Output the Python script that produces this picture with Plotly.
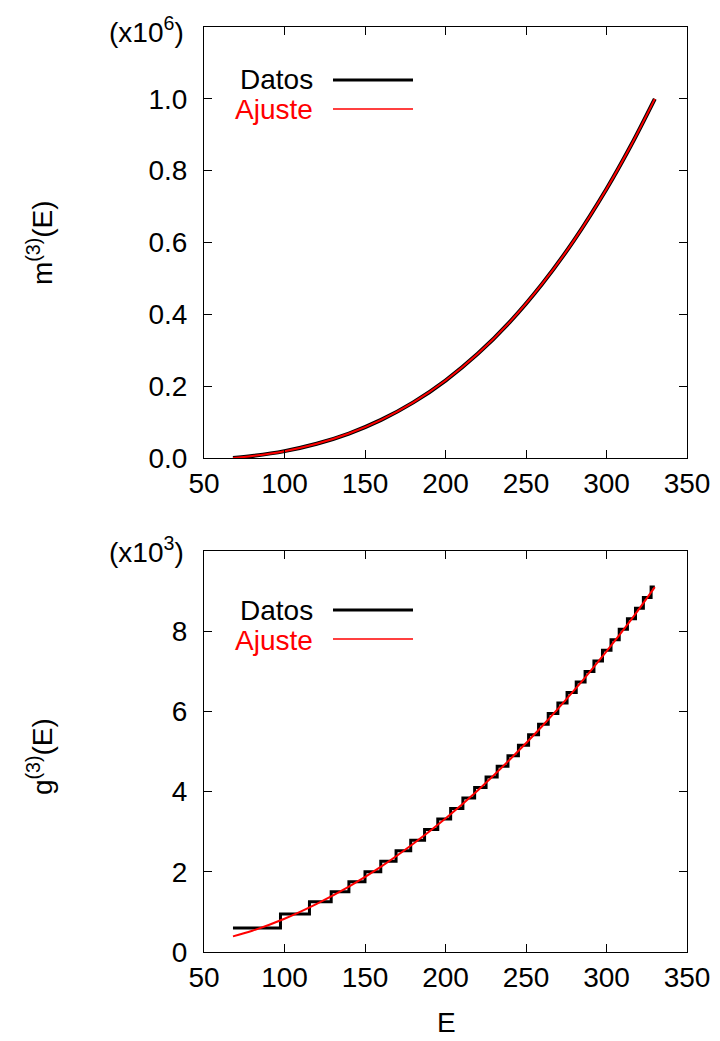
import plotly.graph_objects as go

# ---- data ----
# top panel: m^(3)(E), units of 10^6
E_m = [68, 80, 100, 120, 140, 160, 180, 200, 220, 240, 260, 280, 300, 315, 330]
m_datos = [0.0, 0.0055, 0.0192, 0.0397, 0.0682, 0.1062, 0.1549, 0.2158, 0.2901,
           0.3792, 0.4846, 0.6074, 0.749, 0.8686, 1.0]
m_ajuste = [0.0, 0.0055, 0.0192, 0.0397, 0.0682, 0.1062, 0.1549, 0.2158, 0.2901,
            0.3792, 0.4846, 0.6074, 0.749, 0.8686, 1.0]

# bottom panel: g^(3)(E), units of 10^3 (step data)
g_edges = [68, 97.5, 115.5, 129, 140, 150, 159.8, 169.3, 178.4, 187.0, 195.2, 203.2,
           210.8, 218.1, 225.2, 232.1, 238.8, 245.3, 251.6, 257.8, 263.8, 269.8,
           275.5, 281.2, 286.7, 292.2, 297.5, 302.8, 307.9, 313.0, 318.0, 322.9,
           327.7, 330]
g_levels = [0.60, 0.95, 1.25, 1.50, 1.75, 2.000, 2.263, 2.526, 2.789, 3.052, 3.315,
            3.578, 3.841, 4.104, 4.367, 4.630, 4.893, 5.156, 5.419, 5.682, 5.945,
            6.208, 6.471, 6.734, 6.997, 7.260, 7.523, 7.786, 8.049, 8.312, 8.575,
            8.838, 9.101]
E_fit = [68, 80, 100, 120, 140, 160, 180, 200, 220, 240, 260, 280, 300, 315, 330]
g_fit = [0.39, 0.53, 0.83, 1.20, 1.63, 2.13, 2.70, 3.33, 4.03, 4.80, 5.63, 6.53,
         7.50, 8.27, 9.10]

x_ticks = [50, 100, 150, 200, 250, 300, 350]
m_ticks = [0.0, 0.2, 0.4, 0.6, 0.8, 1.0]
m_ticktext = ["0.0", "0.2", "0.4", "0.6", "0.8", "1.0"]
g_ticks = [0, 2, 4, 6, 8]

FONT = "Liberation Sans, Arial, sans-serif"
FS = 28

fig = go.Figure()
fig.add_trace(go.Scatter(x=E_m, y=m_datos, mode="lines", line=dict(color="black", width=4, shape="spline"),
                         xaxis="x", yaxis="y", showlegend=False))
fig.add_trace(go.Scatter(x=E_m, y=m_ajuste, mode="lines", line=dict(color="red", width=2, shape="spline"),
                         xaxis="x", yaxis="y", showlegend=False))
fig.add_trace(go.Scatter(x=g_edges, y=g_levels + [g_levels[-1]], mode="lines",
                         line=dict(color="black", width=3, shape="hv"),
                         xaxis="x2", yaxis="y2", showlegend=False))
fig.add_trace(go.Scatter(x=E_fit, y=g_fit, mode="lines", line=dict(color="red", width=2, shape="spline"),
                         xaxis="x2", yaxis="y2", showlegend=False))

ax_common = dict(showline=True, linecolor="black", linewidth=1, mirror="ticks",
                 ticks="inside", ticklen=8, tickcolor="black", tickwidth=1,
                 showgrid=False, zeroline=False, automargin=False,
                 tickfont=dict(family=FONT, size=FS, color="black"))

# page has an 8px body margin: figure is 712x1033 placed at (8, 8)
fig.update_layout(
    width=712, height=1033,
    margin=dict(l=196, r=33, t=19, b=89, autoexpand=False),
    paper_bgcolor="white", plot_bgcolor="white",
    font=dict(family=FONT, size=FS, color="black"),
    xaxis=dict(domain=[0, 1], anchor="y", range=[50, 350], tickvals=x_ticks,
               ticklabelstandoff=0, **ax_common),
    yaxis=dict(domain=[0.534, 1], anchor="x", range=[0, 1.2], tickvals=m_ticks,
               ticktext=m_ticktext, ticklabelstandoff=10, **ax_common),
    xaxis2=dict(domain=[0, 1], anchor="y2", range=[50, 350], tickvals=x_ticks,
                ticklabelstandoff=0, **ax_common),
    yaxis2=dict(domain=[0, 0.4335], anchor="x2", range=[0, 10], tickvals=g_ticks,
                ticklabelstandoff=10, **ax_common),
)

def px_x(px):
    return (px - 204) / 483.0

def px_y(py):
    return (952 - py) / 925.0

def note(text, x, y, xanchor="center", angle=0, color="black"):
    return dict(text=text, x=px_x(x), y=px_y(y), xref="paper", yref="paper",
                xanchor=xanchor, yanchor="middle", textangle=angle, showarrow=False,
                font=dict(family=FONT, size=FS, color=color))

ann = []
ann.append(note("m<sup>(3)</sup>(E)", 40, 243, angle=-90))
ann.append(note("g<sup>(3)</sup>(E)", 40, 757, angle=-90))
ann.append(note("(x10<sup>6</sup>)", 186, 30, xanchor="right"))
ann.append(note("(x10<sup>3</sup>)", 186, 550, xanchor="right"))
ann.append(note("E", 446, 1022))

shapes = []
for (yd, ya) in [(80, 110), (610, 640)]:
    ann.append(note("Datos", 315, yd, xanchor="right"))
    ann.append(note("Ajuste", 315, ya, xanchor="right", color="red"))
    shapes.append(dict(type="line", xref="paper", yref="paper", x0=px_x(333), x1=px_x(413),
                       y0=px_y(yd), y1=px_y(yd), line=dict(color="black", width=3)))
    shapes.append(dict(type="line", xref="paper", yref="paper", x0=px_x(333), x1=px_x(413),
                       y0=px_y(ya - 1), y1=px_y(ya - 1), line=dict(color="red", width=1.5)))

fig.update_layout(annotations=ann, shapes=shapes)
fig.write_html("out.html")
